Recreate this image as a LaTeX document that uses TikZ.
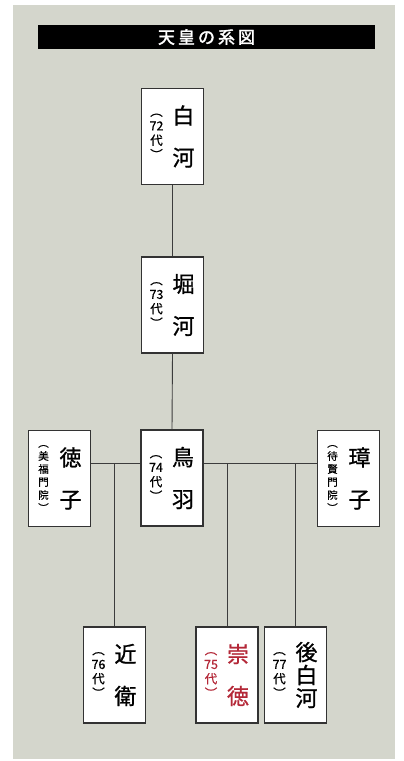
\documentclass[tikz,border=0pt]{standalone}
\usepackage{fontspec}
\newfontfamily\cjk{Noto Sans CJK JP}[AutoFakeBold=2]
\newfontfamily\cjkm{Noto Sans CJK JP}[FakeBold=1]
\newfontfamily\cjks{Noto Sans CJK JP}[FakeBold=0.6]
\definecolor{panel}{HTML}{D4D6CC}
\definecolor{boxline}{HTML}{333333}
\definecolor{conncol}{HTML}{3C3C3C}
\definecolor{sutokured}{HTML}{B42838}
\newcommand\pers[6]{%
  \node[box] (#1) at (#2) {};
  \node[namecol, #4, #3] at ([xshift=11pt]#1.center) {#5};
  \node[#6, #3] at ([xshift=-16pt]#1.center) {\annottext};
}
\begin{document}
\begin{tikzpicture}[x=1pt,y=-1pt,
  box/.style={draw=boxline, fill=white, line width=1.2pt, minimum width=62pt, minimum height=96pt, inner sep=0pt},
  namecol/.style={align=center, inner sep=0pt},
  nametwo/.style={font=\cjkm\fontsize{22}{42}\selectfont},
  namethree/.style={font=\cjkm\fontsize{22}{23}\selectfont},
  annot/.style={align=center, inner sep=0pt, font=\cjks\fontsize{12.5}{14.5}\selectfont},
  annotsmall/.style={align=center, inner sep=0pt, font=\cjks\fontsize{10.5}{13}\selectfont},
  conn/.style={draw=conncol, line width=0.9pt},
  plain/.style={}
]
\useasboundingbox (0,0) rectangle (404,761);
\fill[white] (0,0) rectangle (404,761);
\fill[panel] (13,5) rectangle (395,759);
\node[fill=black, minimum width=337pt, minimum height=24pt, inner sep=0pt, text=white,
      font=\cjk\bfseries\fontsize{17}{17}\selectfont] (title) at (206.5,37)
      {天\hspace{3pt}皇\hspace{3pt}の\hspace{3pt}系\hspace{3pt}図};

\def\annottext{︵\\72\\代\\︶}
\pers{shirakawa}{172.5,136.5}{plain}{nametwo}{白\\河}{annot}
\def\annottext{︵\\73\\代\\︶}
\pers{horikawa}{172.5,305}{plain}{nametwo}{堀\\河}{annot}
\def\annottext{︵\\74\\代\\︶}
\pers{toba}{172,478}{plain}{nametwo}{鳥\\羽}{annot}
\def\annottext{︵\\美\\福\\門\\院\\︶}
\pers{tokushi}{59.5,478.5}{plain}{nametwo}{徳\\子}{annotsmall}
\def\annottext{︵\\待\\賢\\門\\院\\︶}
\pers{shoshi}{348.5,478.5}{plain}{nametwo}{璋\\子}{annotsmall}
\def\annottext{︵\\76\\代\\︶}
\pers{konoe}{114.5,675}{plain}{nametwo}{近\\衛}{annot}
\def\annottext{︵\\75\\代\\︶}
\pers{sutoku}{227,675}{text=sutokured}{nametwo}{崇\\徳}{annot}
\def\annottext{︵\\77\\代\\︶}
\pers{goshirakawa}{295.5,675}{plain}{namethree}{後\\白\\河}{annot}

\coordinate (hy) at (0,463);
\draw[conn] (shirakawa.south) -- (horikawa.north);
\draw[conn] (horikawa.south) -- (toba.north);
\draw[conn] (tokushi.east |- hy) -- (toba.west |- hy);
\draw[conn] (toba.east |- hy) -- (shoshi.west |- hy);
\draw[conn] (konoe.north |- hy) -- (konoe.north);
\draw[conn] (sutoku.north |- hy) -- (sutoku.north);
\draw[conn] (goshirakawa.north |- hy) -- (goshirakawa.north);
\end{tikzpicture}
\end{document}
